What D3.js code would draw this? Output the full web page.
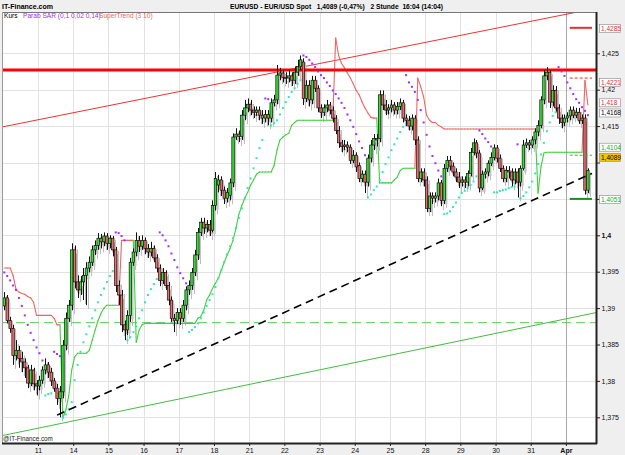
<!DOCTYPE html>
<html><head><meta charset="utf-8">
<script src="https://cdn.jsdelivr.net/npm/d3@7"></script>
<style>body{margin:0;background:#efefef;} svg{display:block;font-family:"Liberation Sans",Arial,sans-serif;}</style>
</head><body><svg id="c" width="625" height="455"></svg>
<script>
// ---------- DATA ----------
const dayLabels = ["11","14","15","16","17","18","21","22","23","24","25","28","29","30","31","Apr"];
const dayStartIndex = [12,24,36,48,60,72,84,96,108,120,132,144,156,168,180,192];
const yTicks = [1.375,1.38,1.385,1.39,1.395,1.4,1.405,1.41,1.415,1.42,1.425];
const hiddenTickLabels = [1.405,1.41]; // covered by price boxes in the reference

const openP = [
1.3903,1.3914,1.3883,1.3872,1.3835,1.3842,1.3831,1.3826,1.3818,1.3797,
1.3815,1.3796,1.3793,1.3801,1.3815,1.3822,1.3812,1.3800,1.3790,1.3776,
1.3785,1.3849,1.3886,1.3904,1.3980,1.3936,1.3925,1.3936,1.3945,1.3955,
1.3963,1.3980,1.3986,1.3996,1.3991,1.3999,1.3989,1.3996,1.3980,1.3931,
1.3918,1.3877,1.3870,1.3890,1.3963,1.3977,1.3993,1.3985,1.3993,1.3982,
1.3977,1.3982,1.3969,1.3955,1.3938,1.3949,1.3931,1.3911,1.3886,1.3883,
1.3894,1.3886,1.3904,1.3925,1.3931,1.3949,1.3973,1.4004,1.4018,1.4010,
1.4015,1.4007,1.4041,1.4069,1.4076,1.4062,1.4051,1.4055,1.4072,1.4135,
1.4139,1.4136,1.4165,1.4175,1.4180,1.4172,1.4169,1.4172,1.4165,1.4161,
1.4166,1.4161,1.4182,1.4186,1.4220,1.4223,1.4217,1.4216,1.4219,1.4213,
1.4224,1.4232,1.4238,1.4188,1.4206,1.4186,1.4213,1.4202,1.4175,1.4169,
1.4175,1.4179,1.4172,1.4161,1.4144,1.4127,1.4122,1.4124,1.4121,1.4103,
1.4110,1.4096,1.4078,1.4084,1.4073,1.4106,1.4124,1.4133,1.4133,1.4193,
1.4179,1.4172,1.4175,1.4179,1.4172,1.4177,1.4182,1.4161,1.4158,1.4150,
1.4161,1.4131,1.4078,1.4087,1.4076,1.4037,1.4054,1.4051,1.4054,1.4072,
1.4048,1.4092,1.4103,1.4095,1.4087,1.4080,1.4073,1.4076,1.4073,1.4085,
1.4114,1.4127,1.4113,1.4065,1.4084,1.4087,1.4099,1.4107,1.4120,1.4106,
1.4092,1.4078,1.4089,1.4087,1.4076,1.4087,1.4073,1.4092,1.4124,1.4127,
1.4124,1.4131,1.4142,1.4151,1.4186,1.4219,1.4224,1.4183,1.4199,1.4175,
1.4161,1.4155,1.4161,1.4164,1.4172,1.4165,1.4169,1.4158,1.4161,1.4062];

const highP = [
1.3922,1.3918,1.3888,1.3877,1.3856,1.3848,1.3840,1.3831,1.3822,1.3822,
1.3818,1.3801,1.3807,1.3820,1.3831,1.3826,1.3818,1.3804,1.3796,1.3793,
1.3856,1.3894,1.3911,1.3989,1.3986,1.3945,1.3944,1.3955,1.3963,1.3971,
1.3986,1.3993,1.4003,1.4002,1.4004,1.4003,1.4000,1.3999,1.3984,1.3938,
1.3925,1.3883,1.3897,1.3969,1.3982,1.4004,1.3999,1.4000,1.3997,1.3988,
1.3991,1.3986,1.3974,1.3960,1.3955,1.3952,1.3936,1.3916,1.3892,1.3900,
1.3900,1.3911,1.3930,1.3938,1.3955,1.3980,1.4010,1.4024,1.4024,1.4021,
1.4021,1.4048,1.4087,1.4083,1.4081,1.4067,1.4065,1.4078,1.4140,1.4147,
1.4144,1.4172,1.4186,1.4188,1.4186,1.4177,1.4177,1.4177,1.4172,1.4172,
1.4172,1.4188,1.4193,1.4234,1.4230,1.4227,1.4224,1.4227,1.4224,1.4232,
1.4241,1.4247,1.4243,1.4213,1.4213,1.4219,1.4219,1.4206,1.4180,1.4180,
1.4186,1.4183,1.4177,1.4165,1.4150,1.4131,1.4131,1.4129,1.4125,1.4117,
1.4114,1.4100,1.4089,1.4089,1.4111,1.4131,1.4139,1.4139,1.4199,1.4199,
1.4186,1.4180,1.4186,1.4183,1.4183,1.4188,1.4186,1.4166,1.4164,1.4166,
1.4165,1.4136,1.4092,1.4092,1.4081,1.4059,1.4059,1.4059,1.4078,1.4076,
1.4098,1.4109,1.4109,1.4100,1.4092,1.4087,1.4081,1.4081,1.4089,1.4120,
1.4133,1.4131,1.4117,1.4089,1.4092,1.4103,1.4114,1.4125,1.4124,1.4111,
1.4096,1.4095,1.4095,1.4092,1.4092,1.4092,1.4096,1.4131,1.4133,1.4131,
1.4136,1.4147,1.4158,1.4191,1.4227,1.4231,1.4227,1.4206,1.4205,1.4180,
1.4166,1.4166,1.4169,1.4177,1.4177,1.4175,1.4175,1.4166,1.4166,1.4092];

const lowP = [
1.3897,1.3879,1.3866,1.3822,1.3828,1.3818,1.3812,1.3804,1.3790,1.3793,
1.3787,1.3780,1.3787,1.3796,1.3809,1.3804,1.3793,1.3785,1.3767,1.3750,
1.3776,1.3842,1.3881,1.3897,1.3927,1.3914,1.3918,1.3911,1.3904,1.3949,
1.3958,1.3973,1.3980,1.3982,1.3985,1.3980,1.3982,1.3971,1.3922,1.3904,
1.3867,1.3856,1.3863,1.3881,1.3958,1.3971,1.3977,1.3980,1.3974,1.3969,
1.3971,1.3963,1.3949,1.3930,1.3933,1.3925,1.3904,1.3881,1.3867,1.3878,
1.3877,1.3881,1.3897,1.3918,1.3925,1.3944,1.3966,1.3999,1.4002,1.4004,
1.3999,1.4004,1.4034,1.4059,1.4054,1.4043,1.4045,1.4048,1.4066,1.4131,
1.4128,1.4131,1.4158,1.4169,1.4165,1.4161,1.4164,1.4158,1.4153,1.4155,
1.4151,1.4155,1.4177,1.4180,1.4213,1.4210,1.4208,1.4210,1.4205,1.4208,
1.4219,1.4227,1.4179,1.4183,1.4177,1.4180,1.4197,1.4169,1.4161,1.4164,
1.4169,1.4166,1.4155,1.4139,1.4120,1.4114,1.4117,1.4114,1.4098,1.4099,
1.4087,1.4073,1.4073,1.4058,1.4067,1.4100,1.4117,1.4122,1.4128,1.4172,
1.4165,1.4166,1.4169,1.4166,1.4166,1.4172,1.4155,1.4150,1.4144,1.4144,
1.4124,1.4073,1.4073,1.4067,1.4032,1.4032,1.4043,1.4045,1.4048,1.4040,
1.4043,1.4087,1.4089,1.4081,1.4073,1.4065,1.4067,1.4065,1.4067,1.4081,
1.4110,1.4106,1.4059,1.4062,1.4078,1.4081,1.4095,1.4103,1.4100,1.4087,
1.4073,1.4073,1.4078,1.4067,1.4070,1.4052,1.4067,1.4089,1.4120,1.4117,
1.4120,1.4125,1.4136,1.4147,1.4180,1.4213,1.4175,1.4177,1.4169,1.4153,
1.4147,1.4150,1.4155,1.4158,1.4161,1.4161,1.4153,1.4153,1.4056,1.4058];

const closeP = [
1.3914,1.3883,1.3872,1.3835,1.3842,1.3831,1.3826,1.3818,1.3797,1.3815,
1.3796,1.3793,1.3801,1.3815,1.3822,1.3812,1.3800,1.3790,1.3776,1.3785,
1.3849,1.3886,1.3904,1.3980,1.3936,1.3925,1.3936,1.3945,1.3955,1.3963,
1.3980,1.3986,1.3996,1.3991,1.3999,1.3989,1.3996,1.3980,1.3931,1.3918,
1.3877,1.3870,1.3890,1.3963,1.3977,1.3993,1.3985,1.3993,1.3982,1.3977,
1.3982,1.3969,1.3955,1.3938,1.3949,1.3931,1.3911,1.3886,1.3883,1.3894,
1.3886,1.3904,1.3925,1.3931,1.3949,1.3973,1.4004,1.4018,1.4010,1.4015,
1.4007,1.4041,1.4078,1.4076,1.4062,1.4051,1.4059,1.4072,1.4135,1.4139,
1.4136,1.4165,1.4175,1.4180,1.4172,1.4169,1.4172,1.4165,1.4161,1.4166,
1.4161,1.4182,1.4186,1.4220,1.4223,1.4217,1.4216,1.4219,1.4213,1.4224,
1.4232,1.4241,1.4188,1.4206,1.4186,1.4213,1.4202,1.4175,1.4169,1.4175,
1.4179,1.4172,1.4161,1.4144,1.4127,1.4122,1.4124,1.4121,1.4103,1.4110,
1.4094,1.4078,1.4084,1.4073,1.4106,1.4124,1.4133,1.4131,1.4193,1.4179,
1.4172,1.4175,1.4179,1.4172,1.4177,1.4182,1.4161,1.4158,1.4150,1.4161,
1.4131,1.4078,1.4087,1.4076,1.4037,1.4054,1.4051,1.4054,1.4072,1.4048,
1.4092,1.4103,1.4095,1.4087,1.4080,1.4073,1.4076,1.4073,1.4085,1.4114,
1.4127,1.4113,1.4065,1.4084,1.4087,1.4099,1.4107,1.4120,1.4106,1.4092,
1.4078,1.4089,1.4087,1.4076,1.4087,1.4073,1.4092,1.4124,1.4127,1.4124,
1.4131,1.4142,1.4151,1.4186,1.4219,1.4224,1.4183,1.4199,1.4175,1.4161,
1.4155,1.4161,1.4164,1.4172,1.4165,1.4169,1.4158,1.4161,1.4062,1.4089];

const parabSar = [
1.3949,1.3944,1.3938,1.3931,1.3925,1.3914,1.3903,1.3890,1.3877,1.3866,
1.3856,1.3846,1.3838,1.3828,1.3780,1.3782,1.3783,1.3840,1.3837,1.3834,
1.3750,1.3754,1.3761,1.3771,1.3801,1.3822,1.3840,1.3853,1.3864,1.3875,
1.3886,1.3897,1.3908,1.3918,1.3927,1.3936,1.3944,1.3951,1.4004,1.4003,
1.3999,1.3993,1.3856,1.3860,1.3867,1.3875,1.3886,1.3897,1.3908,1.3918,
1.3926,1.3933,1.3940,1.4004,1.4000,1.3993,1.3985,1.3975,1.3966,1.3956,
1.3948,1.3941,1.3934,1.3867,1.3870,1.3874,1.3879,1.3886,1.3894,1.3903,
1.3911,1.3919,1.3929,1.3941,1.3952,1.3963,1.3974,1.3985,1.3996,1.4010,
1.4024,1.4037,1.4051,1.4065,1.4078,1.4092,1.4106,1.4120,1.4131,1.4188,
1.4187,1.4151,1.4154,1.4158,1.4166,1.4175,1.4183,1.4190,1.4197,1.4202,
1.4208,1.4213,1.4247,1.4245,1.4241,1.4236,1.4231,1.4225,1.4220,1.4216,
1.4210,1.4205,1.4199,1.4194,1.4188,1.4182,1.4175,1.4166,1.4158,1.4149,
1.4139,1.4129,1.4120,1.4110,1.4052,1.4056,1.4062,1.4067,1.4076,1.4087,
1.4098,1.4107,1.4117,1.4125,1.4133,1.4142,1.4149,1.4220,1.4210,1.4204,
1.4197,1.4186,1.4172,1.4155,1.4138,1.4122,1.4109,1.4099,1.4089,1.4081,
1.4029,1.4030,1.4033,1.4039,1.4045,1.4052,1.4058,1.4061,1.4065,1.4069,
1.4074,1.4081,1.4144,1.4139,1.4133,1.4128,1.4122,1.4059,1.4059,1.4061,
1.4062,1.4063,1.4065,1.4066,1.4067,1.4125,1.4051,1.4054,1.4059,1.4066,
1.4074,1.4085,1.4098,1.4111,1.4127,1.4143,1.4155,1.4164,1.4169,1.4231,
1.4225,1.4219,1.4210,1.4202,1.4194,1.4187,1.4182,1.4176,1.4171,1.4165];

const superTrend = [
1.3955,1.3955,1.3955,1.3945,1.3926,1.3922,1.3920,1.3919,1.3916,1.3914,
1.3908,1.3890,1.3890,1.3890,1.3890,1.3890,1.3890,1.3886,1.3877,1.3877,
1.3749,1.3760,1.3780,1.3815,1.3833,1.3838,1.3838,1.3838,1.3838,1.3842,
1.3856,1.3870,1.3883,1.3893,1.3900,1.3904,1.3904,1.3904,1.3904,1.3904,
1.3993,1.3993,1.3993,1.3993,1.3993,1.3853,1.3870,1.3877,1.3879,1.3879,
1.3879,1.3879,1.3879,1.3879,1.3879,1.3879,1.3879,1.3879,1.3879,1.3879,
1.3879,1.3879,1.3879,1.3879,1.3879,1.3879,1.3886,1.3888,1.3897,1.3911,
1.3918,1.3927,1.3934,1.3941,1.3952,1.3963,1.3973,1.3982,1.3993,1.4010,
1.4029,1.4041,1.4051,1.4059,1.4069,1.4076,1.4084,1.4087,1.4087,1.4087,
1.4087,1.4087,1.4096,1.4117,1.4131,1.4135,1.4138,1.4140,1.4151,1.4155,
1.4158,1.4158,1.4158,1.4158,1.4158,1.4158,1.4158,1.4158,1.4158,1.4158,
1.4158,1.4158,1.4158,1.4271,1.4247,1.4236,1.4230,1.4223,1.4216,1.4208,
1.4199,1.4193,1.4183,1.4175,1.4168,1.4162,1.4161,1.4161,1.4072,1.4072,
1.4072,1.4072,1.4072,1.4076,1.4080,1.4089,1.4092,1.4092,1.4092,1.4092,
1.4092,1.4216,1.4204,1.4190,1.4165,1.4158,1.4155,1.4155,1.4151,1.4149,
1.4146,1.4146,1.4146,1.4146,1.4146,1.4146,1.4146,1.4146,1.4146,1.4146,
1.4146,1.4146,1.4146,1.4146,1.4146,1.4146,1.4146,1.4146,1.4146,1.4146,
1.4146,1.4146,1.4146,1.4146,1.4146,1.4146,1.4146,1.4146,1.4146,1.4146,
1.4146,1.4146,1.4058,1.4094,1.4113,1.4114,1.4114,1.4114,1.4114,1.4114,
1.4114,1.4114,1.4114,1.4114,1.4114,1.4114,1.4114,1.4114,1.4213,1.4179];

// drawn lines: [index, price] anchors
const redTrend = [[0,1.4149],[202.5,1.4312]];
const greenTrend = [[0,1.3725],[202.5,1.3894]];
const blackTrend = [[18.5,1.3753],[200.9,1.4085]];
const greenDashLevel = 1.3880;
const redLevel = 1.4227;

// right side price markers
const markerTexts = ["1,4285","1,4221","1,418","1,4168","1,4104","1,4089","1,4051"];
const markerPos = [1.4284,1.4210,1.4182,1.4168,1.4121,1.4107,1.4049];
const markerColors = ["#e03030","#e03030","#e03030","#000000","#22aa22","#000000","#22aa22"];
const markerFills = ["#ffffff","#ffffff","#ffffff","#ffffff","#ffffff","#f5c400","#ffffff"];
const stubLevels = [1.4285,1.4216,1.4110,1.4050];
const stubColors = ["#e03030","#e03030","#33bb33","#228822"];
const stubDash = ["","3,2","3,2",""];

// ---------- CHART ----------
const svg = d3.select("#c");
const P = {l:2, r:596, t:12, b:443};
const x = d3.scaleLinear().domain([0,202.5]).range([2.8,596.7]);
const y = d3.scaleLinear().domain([1.375,1.425]).range([417.3,53.3]);
const cx = i => x(i+0.5);

svg.append("rect").attr("width",625).attr("height",455).attr("fill","#efefef");
svg.append("rect").attr("x",P.l).attr("y",P.t).attr("width",P.r-P.l).attr("height",P.b-P.t).attr("fill","#fff");
svg.append("defs").append("clipPath").attr("id","clip").append("rect")
  .attr("x",P.l).attr("y",P.t).attr("width",P.r-P.l).attr("height",P.b-P.t);
const g = svg.append("g").attr("clip-path","url(#clip)");

// grid
g.selectAll(".hg").data(yTicks).join("line")
  .attr("x1",P.l).attr("x2",P.r).attr("y1",d=>Math.round(y(d))+0.5).attr("y2",d=>Math.round(y(d))+0.5)
  .attr("stroke","#e2e2e2").attr("stroke-width",1);
g.selectAll(".vg").data(dayStartIndex).join("line")
  .attr("x1",d=>Math.round(x(d))+0.5).attr("x2",d=>Math.round(x(d))+0.5).attr("y1",P.t).attr("y2",P.b)
  .attr("stroke",(d,i)=>dayLabels[i]==="Apr"?"#a8a8a8":"#e2e2e2").attr("stroke-width",1);

// trend lines
const L = d3.line().x(d=>x(d[0])).y(d=>y(d[1]));
g.append("path").attr("d",L(greenTrend)).attr("stroke","#44bb44").attr("stroke-width",1).attr("fill","none");
g.append("line").attr("x1",P.l).attr("x2",P.r).attr("y1",y(greenDashLevel)).attr("y2",y(greenDashLevel))
  .attr("stroke","#55cc55").attr("stroke-width",1).attr("stroke-dasharray","9,5");
g.append("path").attr("d",L(redTrend)).attr("stroke","#ee3333").attr("stroke-width",1).attr("fill","none");

const idx = d3.range(closeP.length);
const up = i => closeP[i] >= openP[i];
const bw = 2.4;

// shadows
const sh = g.append("g").attr("transform","translate(2,4)");
sh.selectAll("line").data(idx).join("line")
  .attr("x1",i=>Math.round(cx(i))+0.5).attr("x2",i=>Math.round(cx(i))+0.5)
  .attr("y1",i=>y(highP[i])).attr("y2",i=>y(lowP[i])).attr("stroke","#bdbdbd").attr("stroke-width",1);
sh.selectAll("rect").data(idx).join("rect")
  .attr("x",i=>cx(i)-bw/2).attr("width",bw)
  .attr("y",i=>y(Math.max(openP[i],closeP[i])))
  .attr("height",i=>Math.max(1,Math.abs(y(openP[i])-y(closeP[i])))).attr("fill","#c4c4c4");

// supertrend
const stColor = i => superTrend[i] > closeP[i] ? "#f06464" : "#3fcf3f";
g.selectAll(".st").data(idx.slice(1)).join("line")
  .attr("x1",i=>cx(i-1)).attr("x2",i=>cx(i)).attr("y1",i=>y(superTrend[i-1])).attr("y2",i=>y(superTrend[i]))
  .attr("stroke",stColor).attr("stroke-width",1.1).attr("stroke-linecap","round");

// red level
g.append("line").attr("x1",P.l).attr("x2",P.r).attr("y1",y(redLevel)).attr("y2",y(redLevel))
  .attr("stroke","#ff0000").attr("stroke-width",3);

// candles
g.selectAll(".wick").data(idx).join("line")
  .attr("x1",i=>Math.round(cx(i))+0.5).attr("x2",i=>Math.round(cx(i))+0.5)
  .attr("y1",i=>y(highP[i])).attr("y2",i=>y(lowP[i])).attr("stroke","#111").attr("stroke-width",1);
g.selectAll(".body").data(idx).join("rect")
  .attr("x",i=>cx(i)-bw/2).attr("width",bw)
  .attr("y",i=>y(Math.max(openP[i],closeP[i])))
  .attr("height",i=>Math.max(1,Math.abs(y(openP[i])-y(closeP[i]))))
  .attr("fill",i=>up(i)?"#2ee82e":"#f26a6a").attr("stroke","#111").attr("stroke-width",0.7);

// parabolic SAR
g.selectAll(".sar").data(idx).join("rect")
  .attr("x",i=>cx(i)-1).attr("y",i=>y(parabSar[i])-1).attr("width",2).attr("height",2)
  .attr("fill",i=>parabSar[i]>closeP[i]?"#9b30ff":"#2fe8b4");

// black dashed trend
g.append("path").attr("d",L(blackTrend)).attr("stroke","#000").attr("stroke-width",1.6)
  .attr("stroke-dasharray","8,5").attr("fill","none");

// stubs at right
g.selectAll(".stub").data(stubLevels).join("line")
  .attr("x1",x(193.3)).attr("x2",x(200.9)).attr("y1",d=>y(d)).attr("y2",d=>y(d))
  .attr("stroke",(d,i)=>stubColors[i]).attr("stroke-width",(d,i)=>stubDash[i]?1:2)
  .attr("stroke-dasharray",(d,i)=>stubDash[i]||null);

// legend inside plot
const lg = svg.append("g").attr("font-size",6.6);
lg.append("text").attr("x",4).attr("y",18).text("Kurs").attr("fill","#000");
lg.append("text").attr("x",23).attr("y",18).text("Parab SAR (0,1 0,02 0,14)").attr("fill","#9b30ff");
lg.append("text").attr("x",99).attr("y",18).text("SuperTrend (3 10)").attr("fill","#f06464");

// frame
svg.append("line").attr("x1",P.l).attr("x2",P.r).attr("y1",P.t+0.5).attr("y2",P.t+0.5).attr("stroke","#777");
svg.append("line").attr("x1",P.l+0.5).attr("x2",P.l+0.5).attr("y1",P.t).attr("y2",P.b).attr("stroke","#999");
svg.append("line").attr("x1",P.r+0.5).attr("x2",P.r+0.5).attr("y1",P.t).attr("y2",P.b+1).attr("stroke","#222").attr("stroke-width",2);
svg.append("line").attr("x1",P.l).attr("x2",P.r+1).attr("y1",P.b+0.5).attr("y2",P.b+0.5).attr("stroke","#222").attr("stroke-width",2);

// axes
const fmt = d => hiddenTickLabels.includes(d) ? "" : d3.format(".3~f")(d).replace(".",",");
const ya = svg.append("g").attr("transform",`translate(${P.r+1},0)`)
  .call(d3.axisRight(y).tickValues(yTicks).tickSize(3).tickPadding(1.5).tickFormat(fmt));
ya.select(".domain").remove();
ya.selectAll("line").attr("stroke","#222");
ya.selectAll("text").attr("font-size",7).attr("fill","#111").attr("font-family","Liberation Sans, Arial")
  .attr("font-weight",d=>d===1.4?"bold":"normal");

const xa = svg.append("g").attr("transform",`translate(0,${P.b+1})`)
  .call(d3.axisBottom(x).tickValues(dayStartIndex).tickSize(2).tickPadding(2).tickFormat((d,i)=>dayLabels[i]));
xa.select(".domain").remove();
xa.selectAll("line").attr("stroke","#222");
xa.selectAll("text").attr("font-size",7).attr("fill","#111").attr("font-family","Liberation Sans, Arial")
  .attr("font-weight",(d,i)=>dayLabels[i]==="Apr"?"bold":"normal");

// right price boxes
const mb = svg.append("g");
markerTexts.forEach((t,i)=>{
  const yy = y(markerPos[i]);
  mb.append("rect").attr("x",599.5).attr("y",yy-4).attr("width",21).attr("height",8)
    .attr("fill",markerFills[i]).attr("stroke","#888").attr("stroke-width",0.6);
  mb.append("text").attr("x",601).attr("y",yy+2.4).attr("font-size",6.5).attr("fill",markerColors[i]).text(t);
});

// header
svg.append("text").attr("x",2).attr("y",9).attr("font-size",8).attr("font-weight","bold")
  .attr("textLength",51).attr("lengthAdjust","spacingAndGlyphs").text("IT-Finance.com");
svg.append("text").attr("x",230).attr("y",9).attr("font-size",7.5).attr("font-weight","bold")
  .attr("xml:space","preserve").attr("textLength",213).attr("lengthAdjust","spacingAndGlyphs")
  .text("EURUSD - EUR/USD Spot   1,4089 (-0,47%)   2 Stunde  16:04 (14:04)");

svg.append("text").attr("x",3).attr("y",441).attr("font-size",6.3).attr("fill","#222").text("@IT-Finance.com");
</script></body></html>
